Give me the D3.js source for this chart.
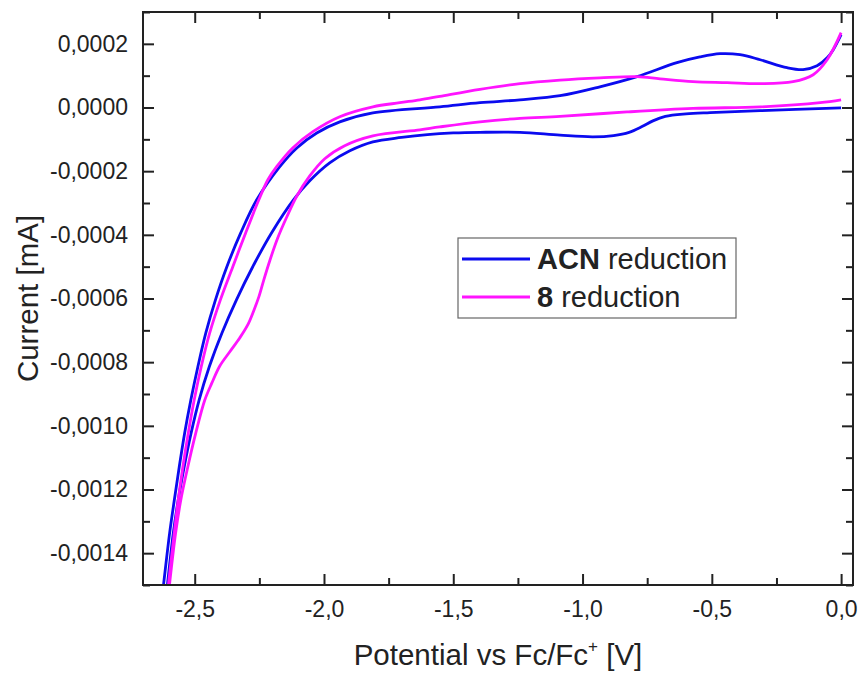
<!DOCTYPE html>
<html>
<head>
<meta charset="utf-8">
<script src="https://cdn.jsdelivr.net/npm/d3@7"></script>
<style>
  body { margin: 0; background: #fff; }
  text { font-family: "Liberation Sans", Arial, sans-serif; fill: #222; }
</style>
</head>
<body>
<script>
// potential [V], current [mA] — lower branch goes right to left, upper branch left to right
var acnLower = [
  [0.000, -0.000001], [-0.313, -0.000010], [-0.507, -0.000016], [-0.600, -0.000020],
  [-0.680, -0.000028], [-0.728, -0.000042], [-0.770, -0.000060], [-0.820, -0.000078],
  [-0.880, -0.000088], [-0.960, -0.000092], [-1.087, -0.000087], [-1.242, -0.000078],
  [-1.397, -0.000078], [-1.500, -0.000080], [-1.600, -0.000085], [-1.700, -0.000094],
  [-1.811, -0.000108], [-1.900, -0.000136], [-1.978, -0.000174], [-2.056, -0.000231],
  [-2.118, -0.000290], [-2.203, -0.000394], [-2.276, -0.000501], [-2.339, -0.000605],
  [-2.395, -0.000709], [-2.444, -0.000815], [-2.483, -0.000919], [-2.514, -0.001023],
  [-2.541, -0.001130], [-2.564, -0.001234], [-2.583, -0.001338], [-2.605, -0.001495],
  [-2.616, -0.001580]
];
var acnUpper = [
  [-2.632, -0.001580], [-2.620, -0.001495], [-2.597, -0.001337], [-2.579, -0.001234],
  [-2.560, -0.001130], [-2.539, -0.001023], [-2.515, -0.000919], [-2.488, -0.000815],
  [-2.457, -0.000708], [-2.420, -0.000605], [-2.376, -0.000501], [-2.322, -0.000394],
  [-2.260, -0.000290], [-2.171, -0.000186], [-2.105, -0.000127], [-2.028, -0.000080],
  [-1.939, -0.000045], [-1.811, -0.000017], [-1.552, 0.000002], [-1.397, 0.000015],
  [-1.242, 0.000024], [-1.087, 0.000037], [-0.933, 0.000065], [-0.789, 0.000097],
  [-0.635, 0.000141], [-0.546, 0.000159], [-0.468, 0.000169], [-0.391, 0.000166],
  [-0.313, 0.000150], [-0.209, 0.000125], [-0.147, 0.000119], [-0.093, 0.000131],
  [-0.054, 0.000156], [-0.031, 0.000181], [0.000, 0.000229]
];
var cmp8Lower = [
  [0.000, 0.000024], [-0.081, 0.000015], [-0.313, 0.000002], [-0.573, -0.000003],
  [-0.828, -0.000014], [-1.087, -0.000028], [-1.242, -0.000034], [-1.397, -0.000045],
  [-1.552, -0.000061], [-1.629, -0.000070], [-1.811, -0.000089], [-1.920, -0.000120],
  [-1.997, -0.000161], [-2.055, -0.000215], [-2.105, -0.000278], [-2.144, -0.000344],
  [-2.179, -0.000410], [-2.210, -0.000482], [-2.233, -0.000542], [-2.252, -0.000595],
  [-2.272, -0.000639], [-2.295, -0.000683], [-2.326, -0.000724], [-2.365, -0.000768],
  [-2.403, -0.000812], [-2.434, -0.000866], [-2.461, -0.000919], [-2.496, -0.001023],
  [-2.527, -0.001130], [-2.554, -0.001234], [-2.574, -0.001338], [-2.597, -0.001495],
  [-2.608, -0.001580]
];
var cmp8Upper = [
  [-2.612, -0.001580], [-2.601, -0.001495], [-2.579, -0.001337], [-2.564, -0.001234],
  [-2.546, -0.001130], [-2.525, -0.001023], [-2.502, -0.000919], [-2.475, -0.000815],
  [-2.442, -0.000708], [-2.401, -0.000605], [-2.353, -0.000501], [-2.303, -0.000394],
  [-2.252, -0.000290], [-2.217, -0.000227], [-2.183, -0.000186], [-2.121, -0.000127],
  [-2.043, -0.000076], [-1.939, -0.000029], [-1.811, 0.000002], [-1.707, 0.000015],
  [-1.629, 0.000024], [-1.552, 0.000035], [-1.397, 0.000057], [-1.242, 0.000075],
  [-1.087, 0.000086], [-0.933, 0.000093], [-0.789, 0.000097], [-0.700, 0.000090],
  [-0.573, 0.000081], [-0.441, 0.000078], [-0.313, 0.000075], [-0.186, 0.000081],
  [-0.108, 0.000103], [-0.054, 0.000150], [0.000, 0.000235]
];

var xTicks = [-2.5, -2.0, -1.5, -1.0, -0.5, 0.0];
var xMinor = [-2.25, -1.75, -1.25, -0.75, -0.25];
var yTicks = [0.0002, 0.0000, -0.0002, -0.0004, -0.0006, -0.0008, -0.0010, -0.0012, -0.0014];
var yMinor = [0.0003, 0.0001, -0.0001, -0.0003, -0.0005, -0.0007, -0.0009, -0.0011, -0.0013, -0.0015];

var seriesBold = ["ACN", "8"];
var seriesRest = [" reduction", " reduction"];
var seriesColors = ["#0b0bef", "#ff14ff"];

var W = 860, H = 675;
var L = 143, R = 853, T = 12, B = 585;

var svg = d3.select("body").append("svg").attr("width", W).attr("height", H);

var x = d3.scaleLinear().domain([-2.7, 0.046]).range([L, R]);
var y = d3.scaleLinear().domain([-0.0015, 0.0003]).range([B, T]);

var fmtX = function(d) { return d.toFixed(1).replace(".", ","); };
var fmtY = function(d) { return d.toFixed(4).replace(".", ","); };

function styleAxis(g) {
  g.select(".domain").remove();
  g.selectAll("line").attr("stroke", "#222").attr("stroke-width", 2);
  g.selectAll("text").attr("font-size", 23).attr("fill", "#222")
    .attr("font-family", "'Liberation Sans', Arial, sans-serif");
}

// bottom
svg.append("g").attr("transform", "translate(0," + B + ")")
  .call(d3.axisBottom(x).tickValues(xTicks).tickSize(-11).tickPadding(16).tickFormat(fmtX))
  .call(styleAxis);
svg.append("g").attr("transform", "translate(0," + B + ")")
  .call(d3.axisBottom(x).tickValues(xMinor).tickSize(-7).tickFormat(""))
  .call(styleAxis);
// top
svg.append("g").attr("transform", "translate(0," + T + ")")
  .call(d3.axisTop(x).tickValues(xTicks).tickSize(-11).tickFormat(""))
  .call(styleAxis);
svg.append("g").attr("transform", "translate(0," + T + ")")
  .call(d3.axisTop(x).tickValues(xMinor).tickSize(-7).tickFormat(""))
  .call(styleAxis);
// left
svg.append("g").attr("transform", "translate(" + L + ",0)")
  .call(d3.axisLeft(y).tickValues(yTicks).tickSize(-11).tickPadding(15).tickFormat(fmtY))
  .call(styleAxis);
svg.append("g").attr("transform", "translate(" + L + ",0)")
  .call(d3.axisLeft(y).tickValues(yMinor).tickSize(-7).tickFormat(""))
  .call(styleAxis);
// right
svg.append("g").attr("transform", "translate(" + R + ",0)")
  .call(d3.axisRight(y).tickValues(yTicks).tickSize(-11).tickFormat(""))
  .call(styleAxis);
svg.append("g").attr("transform", "translate(" + R + ",0)")
  .call(d3.axisRight(y).tickValues(yMinor).tickSize(-7).tickFormat(""))
  .call(styleAxis);

svg.append("clipPath").attr("id", "plotclip")
  .append("rect").attr("x", L).attr("y", T).attr("width", R - L).attr("height", B - T);

var line = d3.line()
  .x(function(d) { return x(d[0]); })
  .y(function(d) { return y(d[1]); })
  .curve(d3.curveCatmullRom.alpha(0.5));

var curves = [
  { data: acnLower, c: 0 }, { data: acnUpper, c: 0 },
  { data: cmp8Lower, c: 1 }, { data: cmp8Upper, c: 1 }
];

svg.append("g").attr("clip-path", "url(#plotclip)")
  .selectAll("path").data(curves).enter().append("path")
  .attr("d", function(d) { return line(d.data); })
  .attr("fill", "none")
  .attr("stroke", function(d) { return seriesColors[d.c]; })
  .attr("stroke-width", 2.8)
  .attr("stroke-linejoin", "round");

// frame
svg.append("rect").attr("x", L).attr("y", T).attr("width", R - L).attr("height", B - T)
  .attr("fill", "none").attr("stroke", "#222").attr("stroke-width", 2);

// legend
var lg = svg.append("g");
lg.append("rect").attr("x", 458).attr("y", 238).attr("width", 278).attr("height", 80)
  .attr("fill", "#fff").attr("stroke", "#666").attr("stroke-width", 1.2);
seriesBold.forEach(function(name, i) {
  var ly = 259 + i * 38;
  lg.append("line").attr("x1", 462).attr("x2", 530).attr("y1", ly).attr("y2", ly)
    .attr("stroke", seriesColors[i]).attr("stroke-width", 2.8);
  var t = lg.append("text").attr("x", 537).attr("y", ly + 10).attr("font-size", 29);
  t.append("tspan").attr("font-weight", "bold").text(name);
  t.append("tspan").text(seriesRest[i]);
});

// axis titles
var xt = svg.append("text").attr("x", (L + R) / 2).attr("y", 665)
  .attr("text-anchor", "middle").attr("font-size", 29.5);
xt.append("tspan").text("Potential vs Fc/Fc");
xt.append("tspan").attr("font-size", 17).attr("dy", -13).text("+");
xt.append("tspan").attr("dy", 13).text(" [V]");

svg.append("text").attr("transform", "translate(38," + (T + B) / 2 + ") rotate(-90)")
  .attr("text-anchor", "middle").attr("font-size", 29.5).text("Current [mA]");
</script>
</body>
</html>
